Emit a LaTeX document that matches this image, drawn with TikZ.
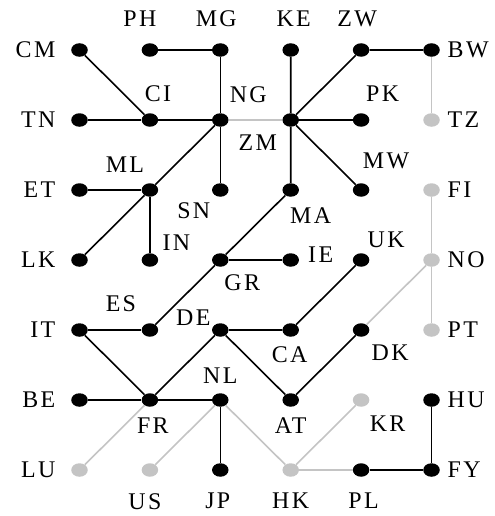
\documentclass[tikz,border=0pt]{standalone}
\usepackage{fontspec}
\setmainfont{Liberation Serif}
\newfontfamily\lblfont[LetterSpace=10]{Liberation Serif}
\usepackage{tikz}
\usetikzlibrary{shapes.geometric}
\definecolor{lightgrey}{RGB}{196,196,196}

\begin{document}
\begin{tikzpicture}[x=70.4bp, y=-70bp,
    dot/.style={ellipse, fill=black, inner sep=0pt, minimum width=16.5bp, minimum height=13.5bp},
    gdot/.style={dot, fill=lightgrey},
    lbl/.style={inner sep=0pt, font=\lblfont\fontsize{24}{24}\selectfont},
    edge/.style={line width=1.6bp},
    gedge/.style={edge, draw=lightgrey}]
        \useasboundingbox (-79.5bp,50bp) rectangle (415.5bp,-466bp);

        % Row 0
        \node[dot] (CM) at (0,0) {};
        \node[dot] (PH) at (1,0) {};
        \node[dot] (MG) at (2,0) {};
        \node[dot] (KE) at (3,0) {};
        \node[dot] (ZW) at (4,0) {};
        \node[dot] (BW) at (5,0) {};

        % Row 1
        \node[dot] (TN) at (0,1) {};
        \node[dot] (CI) at (1,1) {};
        \node[dot] (NG) at (2,1) {};
        \node[dot] (ZM) at (3,1) {};
        \node[dot] (PK) at (4,1) {};
        \node[gdot] (TZ) at (5,1) {};

        % Row 2
        \node[dot] (ET) at (0,2) {};
        \node[dot] (ML) at (1,2) {};
        \node[dot] (SN) at (2,2) {};
        \node[dot] (MA) at (3,2) {};
        \node[dot] (MW) at (4,2) {};
        \node[gdot] (FI) at (5,2) {};

        % Row 3
        \node[dot] (LK) at (0,3) {};
        \node[dot] (IN) at (1,3) {};
        \node[dot] (GR) at (2,3) {};
        \node[dot] (IE) at (3,3) {};
        \node[dot] (UK) at (4,3) {};
        \node[gdot] (NO) at (5,3) {};

        % Row 4
        \node[dot] (IT) at (0,4) {};
        \node[dot] (ES) at (1,4) {};
        \node[dot] (DE) at (2,4) {};
        \node[dot] (CA) at (3,4) {};
        \node[dot] (DK) at (4,4) {};
        \node[gdot] (PT) at (5,4) {};

        % Row 5
        \node[dot] (BE) at (0,5) {};
        \node[dot] (FR) at (1,5) {};
        \node[dot] (NL) at (2,5) {};
        \node[dot] (AT) at (3,5) {};
        \node[gdot] (KR) at (4,5) {};
        \node[dot] (HU) at (5,5) {};

        % Row 6
        \node[gdot] (LU) at (0,6) {};
        \node[gdot] (US) at (1,6) {};
        \node[dot] (JP) at (2,6) {};
        \node[gdot] (HK) at (3,6) {};
        \node[dot] (PL) at (4,6) {};
        \node[dot] (FY) at (5,6) {};

        % Black links
        \draw[edge] (CM) -- (CI);
        \draw[edge] (PH) -- (MG) -- (NG) -- (SN);
        \draw[edge] (TN) -- (CI) -- (NG);
        \draw[edge] (NG) -- (ML) -- (LK);
        \draw[edge] (ET) -- (ML) -- (IN);
        \draw[edge] (KE) -- (ZM) -- (MA) -- (GR) -- (ES);
        \draw[edge] (ZM) -- (ZW) -- (BW);
        \draw[edge] (ZM) -- (PK);
        \draw[edge] (ZM) -- (MW);
        \draw[edge] (GR) -- (IE);
        \draw[edge] (IT) -- (ES);
        \draw[edge] (IT) -- (FR) -- (DE) -- (CA) -- (UK);
        \draw[edge] (DE) -- (AT) -- (DK);
        \draw[edge] (BE) -- (FR) -- (NL) -- (JP);
        \draw[edge] (PL) -- (FY) -- (HU);

        % Grey links
        \draw[gedge] (NG) -- (ZM);
        \draw[gedge] (BW) -- (TZ);
        \draw[gedge] (FI) -- (NO) -- (PT);
        \draw[gedge] (NO) -- (DK);
        \draw[gedge] (FR) -- (LU);
        \draw[gedge] (NL) -- (US);
        \draw[gedge] (NL) -- (HK) -- (KR);
        \draw[gedge] (HK) -- (PL);

        % Labels on the left
        \node[lbl, anchor=east] (CMl) at ([xshift=-24bp]CM.center) {CM};
        \node[lbl, anchor=east] (TNl) at ([xshift=-24bp]TN.center) {TN};
        \node[lbl, anchor=east] (ETl) at ([xshift=-24bp]ET.center) {ET};
        \node[lbl, anchor=east] (LKl) at ([xshift=-24bp]LK.center) {LK};
        \node[lbl, anchor=east] (ITl) at ([xshift=-24bp]IT.center) {IT};
        \node[lbl, anchor=east] (BEl) at ([xshift=-24bp]BE.center) {BE};
        \node[lbl, anchor=east] (LUl) at ([xshift=-24bp]LU.center) {LU};

        % Labels on the right
        \node[lbl, anchor=west] (BWl) at ([xshift=16bp]BW.center) {BW};
        \node[lbl, anchor=west] (TZl) at ([xshift=16bp]TZ.center) {TZ};
        \node[lbl, anchor=west] (FIl) at ([xshift=16bp]FI.center) {FI};
        \node[lbl, anchor=west] (NOl) at ([xshift=16bp]NO.center) {NO};
        \node[lbl, anchor=west] (PTl) at ([xshift=16bp]PT.center) {PT};
        \node[lbl, anchor=west] (HUl) at ([xshift=16bp]HU.center) {HU};
        \node[lbl, anchor=west] (FYl) at ([xshift=16bp]FY.center) {FY};

        % Labels on top and bottom
        \node[lbl, anchor=south] (PHl) at ([xshift=-10bp,yshift=23bp]PH.center) {PH};
        \node[lbl, anchor=south] (MGl) at ([xshift=-4bp,yshift=23bp]MG.center) {MG};
        \node[lbl, anchor=south] (KEl) at ([xshift=3bp,yshift=23bp]KE.center) {KE};
        \node[lbl, anchor=south] (ZWl) at ([xshift=-4bp,yshift=23bp]ZW.center) {ZW};
        \node[lbl, anchor=north] (USl) at ([xshift=-5bp,yshift=-23bp]US.center) {US};
        \node[lbl, anchor=north] (JPl) at ([xshift=-2.5bp,yshift=-23bp]JP.center) {JP};
        \node[lbl, anchor=north] (HKl) at ([yshift=-23bp]HK.center) {HK};
        \node[lbl, anchor=north] (PLl) at ([xshift=2.5bp,yshift=-23bp]PL.center) {PL};

        % Labels inside the grid
        \node[lbl] (CIl) at ([xshift=8bp,yshift=26.5bp]CI.center) {CI};
        \node[lbl] (NGl) at ([xshift=28bp,yshift=25bp]NG.center) {NG};
        \node[lbl] (ZMl) at ([xshift=-33bp,yshift=-23bp]ZM.center) {ZM};
        \node[lbl] (PKl) at ([xshift=21.5bp,yshift=26.5bp]PK.center) {PK};
        \node[lbl] (MLl) at ([xshift=-25bp,yshift=25bp]ML.center) {ML};
        \node[lbl] (SNl) at ([xshift=-26.5bp,yshift=-21bp]SN.center) {SN};
        \node[lbl] (INl) at ([xshift=26.5bp,yshift=17.5bp]IN.center) {IN};
        \node[lbl] (MWl) at ([xshift=25bp,yshift=29bp]MW.center) {MW};
        \node[lbl] (MAl) at ([xshift=20bp,yshift=-26bp]MA.center) {MA};
        \node[lbl] (GRl) at ([xshift=22bp,yshift=-23bp]GR.center) {GR};
        \node[lbl] (IEl) at ([xshift=30bp,yshift=5bp]IE.center) {IE};
        \node[lbl] (UKl) at ([xshift=25bp,yshift=20bp]UK.center) {UK};
        \node[lbl] (ESl) at ([xshift=-29bp,yshift=26bp]ES.center) {ES};
        \node[lbl] (DEl) at ([xshift=-27bp,yshift=12.5bp]DE.center) {DE};
        \node[lbl] (CAl) at ([xshift=-1bp,yshift=-25bp]CA.center) {CA};
        \node[lbl] (DKl) at ([xshift=29bp,yshift=-22.5bp]DK.center) {DK};
        \node[lbl] (NLl) at ([yshift=24.5bp]NL.center) {NL};
        \node[lbl] (FRl) at ([xshift=3bp,yshift=-26bp]FR.center) {FR};
        \node[lbl] (ATl) at ([yshift=-26bp]AT.center) {AT};
        \node[lbl] (KRl) at ([xshift=26.5bp,yshift=-24bp]KR.center) {KR};
    \end{tikzpicture}
\end{document}
